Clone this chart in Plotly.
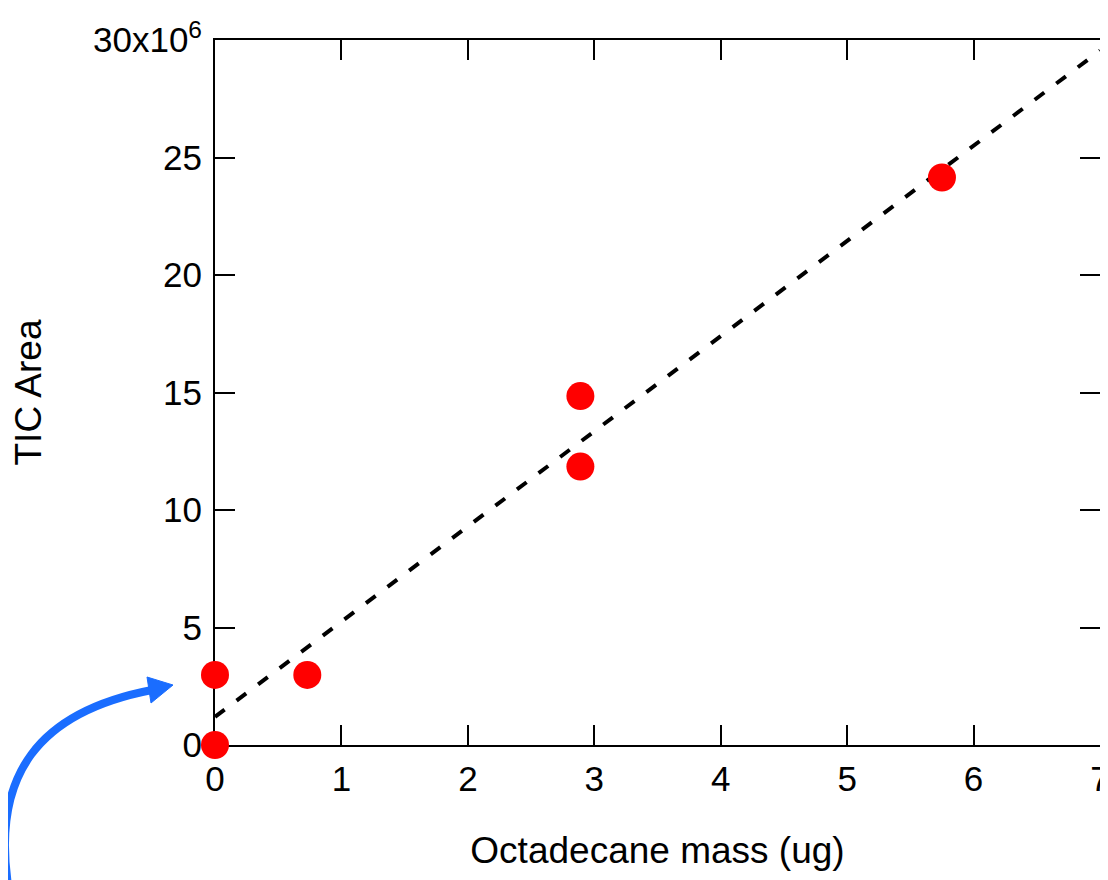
import plotly.graph_objects as go

# Data
mass_ug = [0.0, 0.0, 0.73, 2.89, 2.89, 5.75]
tic_area = [0.0, 2.98e6, 2.98e6, 14.85e6, 11.85e6, 24.15e6]

fit_x = [0.0, 7.0]
fit_y = [1.2e6, 29.55e6]

x_ticks = [0, 1, 2, 3, 4, 5, 6, 7]
y_tick_vals = [0, 5e6, 10e6, 15e6, 20e6, 25e6, 30e6]
y_tick_text = ["0", "5", "10", "15", "20", "25", "30x10<sup>6</sup>"]

FONT = "Liberation Sans, Arial, sans-serif"
# page body adds an 8px margin; size the figure to fit inside the window
W, H = 1100, 872
L, R, T, B = 207, 8, 32, 135

fig = go.Figure()
fig.add_trace(go.Scatter(
    x=fit_x, y=fit_y, mode="lines",
    line=dict(color="black", width=4, dash="12px,15px"),
    hoverinfo="skip", showlegend=False,
))
fig.add_trace(go.Scatter(
    x=mass_ug, y=tic_area, mode="markers",
    marker=dict(color="#ff0000", size=28, line=dict(width=0)),
    cliponaxis=False, showlegend=False,
))

# Decorative blue curved arrow (screen pixel coords converted to paper coords)
OFF = 8
pw, ph = W - L - R, H - T - B
def px(x):
    return (x - OFF - L) / pw
def py(y):
    return (H - B - (y - OFF)) / ph

curve = [(8, 885), (-8, 775), (38, 712), (152, 690)]
path = "M {},{} C {},{} {},{} {},{}".format(
    *[v for p in curve for v in (px(p[0]), py(p[1]))])
fig.add_shape(type="path", path=path, xref="paper", yref="paper",
              line=dict(color="#1a6dff", width=8), layer="above")
head = [(173, 685), (147, 677), (151, 703)]
hpath = "M {},{} L {},{} L {},{} Z".format(
    *[v for p in head for v in (px(p[0]), py(p[1]))])
fig.add_shape(type="path", path=hpath, xref="paper", yref="paper",
              line=dict(color="#1a6dff", width=1), fillcolor="#1a6dff",
              layer="above")

axis_common = dict(
    showline=True, linecolor="black", linewidth=2, mirror="ticks",
    ticks="inside", ticklen=20, tickwidth=2, tickcolor="black",
    showgrid=False, zeroline=False, layer="below traces",
    tickfont=dict(family=FONT, size=35, color="black"),
    ticklabeloverflow="allow",
)
fig.update_xaxes(
    range=[0, 7], tickvals=x_ticks, ticktext=[str(v) for v in x_ticks],
    title=dict(text="Octadecane mass (ug)", font=dict(family=FONT, size=37, color="black"),
               standoff=40),
    ticklabelstandoff=2,
    **axis_common,
)
fig.update_yaxes(
    range=[0, 30e6], tickvals=y_tick_vals, ticktext=y_tick_text,
    title=dict(text="TIC Area", font=dict(family=FONT, size=37, color="black"),
               standoff=44),
    ticklabelstandoff=4,
    **axis_common,
)
fig.update_layout(
    width=W, height=H,
    margin=dict(l=L, r=R, t=T, b=B, autoexpand=False),
    paper_bgcolor="white", plot_bgcolor="white",
    font=dict(family=FONT, color="black"),
    showlegend=False,
)
fig.write_html("out.html")
